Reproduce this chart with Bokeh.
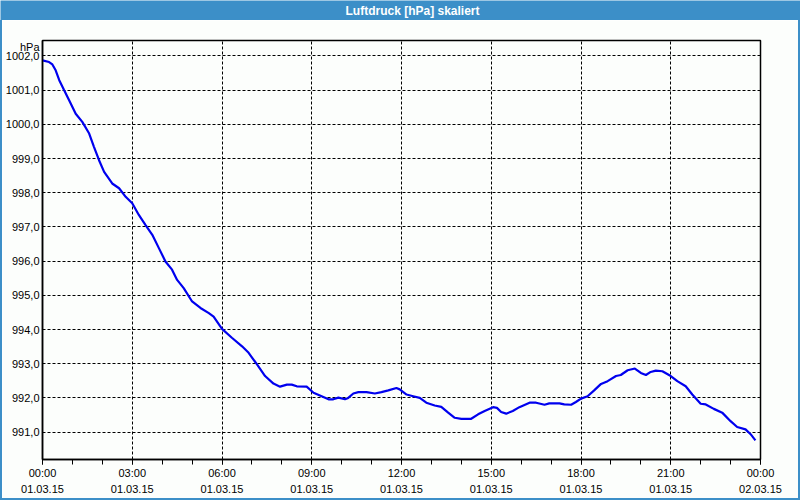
from bokeh.plotting import figure
from bokeh.layouts import column, row
from bokeh.models import FixedTicker, ColumnDataSource, Spacer
from bokeh.core.properties import value
from bokeh.embed import file_html
from bokeh.resources import INLINE

title_text = "Luftdruck [hPa] skaliert"
unit_label = "hPa"

# time of day in hours on 01.03.15
hours = [0.00, 0.22, 0.33, 0.44, 0.56, 0.72, 0.89, 1.11, 1.33, 1.56, 1.72, 1.89,
         2.06, 2.33, 2.56, 2.78, 3.00, 3.22, 3.44, 3.67, 3.89, 4.11, 4.33, 4.50,
         4.72, 5.00, 5.28, 5.56, 5.72, 6.00, 6.33, 6.67, 6.89, 7.17, 7.44, 7.72,
         7.94, 8.17, 8.33, 8.50, 8.83, 9.06, 9.33, 9.56, 9.72, 9.89, 10.11, 10.22,
         10.39, 10.56, 10.83, 11.11, 11.33, 11.56, 11.83, 11.94, 12.17, 12.39, 12.61,
         12.83, 13.11, 13.33, 13.56, 13.78, 14.00, 14.33, 14.56, 14.78, 15.06, 15.19,
         15.33, 15.50, 15.72, 15.94, 16.28, 16.50, 16.78, 16.94, 17.28, 17.44, 17.67,
         17.83, 18.00, 18.22, 18.44, 18.67, 18.89, 19.17, 19.33, 19.56, 19.80, 20.00,
         20.17, 20.33, 20.50, 20.72, 21.00, 21.22, 21.50, 21.72, 22.00, 22.17, 22.44,
         22.72, 23.00, 23.22, 23.50, 23.67, 23.83]

pressure = [1001.87, 1001.82, 1001.75, 1001.58, 1001.29, 1001.00, 1000.70, 1000.31,
            1000.07, 999.73, 999.34, 998.95, 998.61, 998.27, 998.13, 997.88, 997.69,
            997.35, 997.06, 996.77, 996.38, 995.99, 995.75, 995.45, 995.21, 994.82,
            994.63, 994.48, 994.38, 994.02, 993.76, 993.51, 993.32, 992.98, 992.64,
            992.42, 992.33, 992.39, 992.39, 992.34, 992.33, 992.15, 992.05, 991.96,
            991.96, 992.01, 991.96, 992.00, 992.13, 992.17, 992.17, 992.13, 992.17,
            992.22, 992.29, 992.25, 992.10, 992.05, 992.00, 991.86, 991.78, 991.74,
            991.57, 991.42, 991.39, 991.39, 991.52, 991.62, 991.73, 991.71, 991.59,
            991.54, 991.62, 991.73, 991.86, 991.86, 991.80, 991.84, 991.84, 991.81,
            991.80, 991.88, 991.98, 992.05, 992.22, 992.41, 992.49, 992.64, 992.67,
            992.81, 992.86, 992.73, 992.67, 992.76, 992.80, 992.78, 992.64, 992.49,
            992.34, 992.10, 991.83, 991.81, 991.68, 991.57, 991.32, 991.15, 991.08,
            990.94, 990.76]

x_ticks = [0, 3, 6, 9, 12, 15, 18, 21, 24]
x_tick_labels = ["00:00\n01.03.15", "03:00\n01.03.15", "06:00\n01.03.15",
                 "09:00\n01.03.15", "12:00\n01.03.15", "15:00\n01.03.15",
                 "18:00\n01.03.15", "21:00\n01.03.15", "00:00\n02.03.15"]
x_minor = list(range(0, 25))
y_ticks = [991, 992, 993, 994, 995, 996, 997, 998, 999, 1000, 1001, 1002]
y_tick_labels = ["991,0", "992,0", "993,0", "994,0", "995,0", "996,0", "997,0",
                 "998,0", "999,0", "1000,0", "1001,0", "1002,0"]
unit_pos = 1002.27   # where the unit caption sits on the value axis

BLUE_BAR = "#3c8fc8"
BG = "#fcfefc"
FONT = "Liberation Sans"

# ---- title bar ----
tb = figure(width=800, height=20, x_range=(0, 800), y_range=(0, 1),
            toolbar_location=None, output_backend="svg", min_border=0,
            x_axis_location=None, y_axis_location=None)
tb.grid.visible = False
tb.outline_line_color = None
tb.background_fill_color = BLUE_BAR
tb.border_fill_color = BLUE_BAR
tb.text(x=[412], y=[0.5], text=[title_text], text_color="white",
        text_font=value(FONT), text_font_style="bold", text_font_size="12px",
        text_align="center", text_baseline="middle")

# ---- main chart ----
p = figure(width=796, height=478, x_range=(0, 24), y_range=(990.2, 1002.45),
           toolbar_location=None, output_backend="svg",
           min_border_left=38, min_border_right=38, min_border_top=20,
           min_border_bottom=38)
p.background_fill_color = BG
p.border_fill_color = BG
p.outline_line_color = "black"
p.outline_line_width = 1.5

src = ColumnDataSource(dict(h=hours, p=pressure))
p.line("h", "p", source=src, line_color="#0000ee", line_width=2.2)

xt = FixedTicker(ticks=x_ticks, minor_ticks=x_minor)
p.xaxis.ticker = xt
p.xaxis.major_label_overrides = {t: l for t, l in zip(x_ticks, x_tick_labels)}
p.xaxis.major_tick_out = 5
p.xaxis.major_tick_in = 0
p.xaxis.minor_tick_out = 5
p.xaxis.minor_tick_in = 0
p.xaxis.major_label_standoff = 2
p.xaxis.major_label_text_line_height = 1.4

yt = FixedTicker(ticks=y_ticks, minor_ticks=[])
p.yaxis.ticker = FixedTicker(ticks=y_ticks + [unit_pos], minor_ticks=[])
overrides = {t: l for t, l in zip(y_ticks, y_tick_labels)}
overrides[unit_pos] = unit_label
p.yaxis.major_label_overrides = overrides
p.yaxis.major_tick_out = 0
p.yaxis.major_tick_in = 0
p.yaxis.minor_tick_out = 0
p.yaxis.minor_tick_in = 0
p.yaxis.major_label_standoff = 3

for ax in (p.xaxis, p.yaxis):
    ax.axis_line_color = "black"
    ax.axis_line_width = 1.5
    ax.major_tick_line_color = "black"
    ax.minor_tick_line_color = "black"
    ax.major_label_text_font = FONT
    ax.major_label_text_font_size = "11px"
    ax.major_label_text_color = "black"

p.xgrid.ticker = xt
p.ygrid.ticker = yt
for g in (p.xgrid, p.ygrid):
    g.grid_line_color = "black"
    g.grid_line_dash = "3 2"
    g.grid_line_width = 1

edge = {"background-color": BLUE_BAR}
layout = column(
    tb,
    row(Spacer(width=2, height=478, styles=edge), p,
        Spacer(width=2, height=478, styles=edge), spacing=0),
    Spacer(width=800, height=2, styles=edge),
    spacing=0)
open("out.html", "w").write(file_html(layout, INLINE))
